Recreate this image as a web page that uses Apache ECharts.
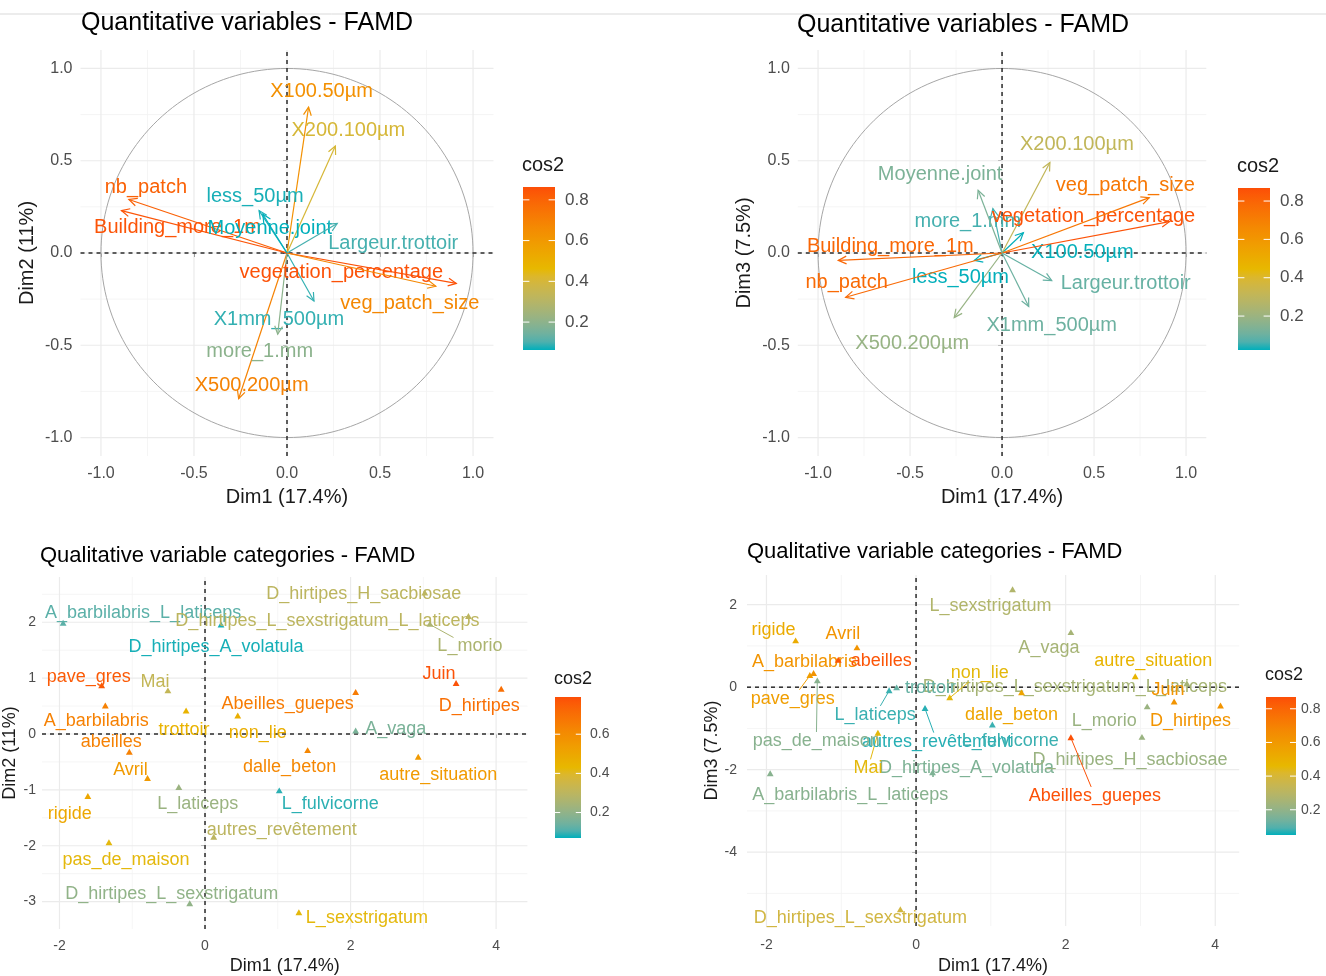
<!DOCTYPE html>
<html><head><meta charset="utf-8">
<script src="https://cdn.jsdelivr.net/npm/echarts@6/dist/echarts.min.js"></script>
<style>html,body{margin:0;padding:0;background:#fff}#chart{width:1326px;height:976px}</style>
</head><body><div id="chart"></div>
<script>
// ================= DATA =================
const quantiVars = ['X100.50µm','X200.100µm','X500.200µm','X1mm_500µm','more_1.mm','less_50µm','nb_patch','Building_more_1m','vegetation_percentage','veg_patch_size','Moyenne.joint','Largeur.trottoir'];
const quantiDim1 = [0.116, 0.26, -0.26, 0.145, -0.05, -0.15, -0.85, -0.89, 0.91, 0.80, -0.13, 0.27];
const quantiDim2 = [0.79, 0.58, -0.79, -0.26, -0.44, 0.23, 0.29, 0.23, -0.165, -0.18, 0.21, 0.16];
const quantiDim3 = [0.11, 0.49, -0.35, -0.29, 0.24, -0.04, -0.24, -0.04, 0.17, 0.30, 0.34, -0.15];

const qualiCats = ['A_barbilabris_L_laticeps','D_hirtipes_A_volatula','D_hirtipes_H_sacbiosae','D_hirtipes_L_sexstrigatum_L_laticeps','L_morio','Juin','D_hirtipes','Abeilles_guepes','A_vaga','pave_gres','Mai','A_barbilabris','trottoir','non_lie','abeilles','Avril','L_laticeps','rigide','autres_revêtement','pas_de_maison','D_hirtipes_L_sexstrigatum','dalle_beton','autre_situation','L_fulvicorne','L_sexstrigatum'];
const qualiDim1 = [-1.95, 0.22, 3.02, 3.62, 3.09, 3.45, 4.07, 2.07, 2.07, -1.42, -0.51, -1.37, -0.26, 0.45, -1.04, -0.79, -0.36, -1.61, 0.12, -1.32, -0.21, 1.41, 2.93, 1.02, 1.29];
const qualiDim2 = [1.98, 1.95, 2.52, 2.10, 1.96, 0.90, 0.80, 0.74, 0.05, 0.86, 0.77, 0.50, 0.41, 0.32, -0.33, -0.80, -0.96, -1.12, -1.85, -1.95, -3.04, -0.30, -0.42, -1.02, -3.20];
const qualiDim3 = [-2.10, -2.08, -1.22, 0.08, -0.48, -0.36, -0.46, -1.23, 1.32, 0.28, -1.12, 0.33, -0.02, -0.26, 0.65, 0.95, -0.09, 1.12, -0.52, 0.15, -5.40, -0.14, 0.25, -0.92, 2.36];
const qualiCos2Dim12 = [0.12, 0.08, 0.30, 0.30, 0.26, 0.78, 0.70, 0.66, 0.16, 0.76, 0.32, 0.64, 0.45, 0.47, 0.64, 0.55, 0.22, 0.50, 0.30, 0.42, 0.20, 0.62, 0.55, 0.09, 0.42];
const qualiCos2Dim13 = [0.18, 0.16, 0.22, 0.25, 0.22, 0.62, 0.62, 0.86, 0.25, 0.58, 0.45, 0.62, 0.12, 0.45, 0.85, 0.62, 0.08, 0.52, 0.07, 0.18, 0.38, 0.55, 0.48, 0.08, 0.28];

const unitTicks = [-1, -0.5, 0, 0.5, 1];
const qualiDim1Ticks = [-2, 0, 2, 4];
const qualiDim2Ticks = [-3, -2, -1, 0, 1, 2];
const qualiDim3Ticks = [-4, -2, 0, 2];
const cos2Ticks = [0.2, 0.4, 0.6, 0.8];
const cos2RangeP1 = [0.063, 0.863];
const cos2RangeP2 = [0.023, 0.868];
const cos2RangeP3 = [0.07, 0.79];
const cos2RangeP4 = [0.05, 0.87];

// ================= STYLE / LAYOUT =================
const FONT = '"Liberation Sans", Arial, Helvetica, sans-serif';
// label offsets (pixels from mark) -- label placement only
const offP1 = {'X100.50µm':[13,-16],'X200.100µm':[13,-15],'X500.200µm':[13,-13],'X1mm_500µm':[-35,19],'more_1.mm':[-18,17],'less_50µm':[-4,-14],'nb_patch':[17,-12],'Building_more_1m':[56,17],'vegetation_percentage':[-115,-11],'veg_patch_size':[-26,17],'Moyenne.joint':[7,14],'Largeur.trottoir':[56,20]};
const offP2 = {'X100.50µm':[59,20],'X200.100µm':[27,-18],'X500.200µm':[-42,26],'X1mm_500µm':[23,19],'more_1.mm':[-25,13],'less_50µm':[-14,17],'nb_patch':[1,-15],'Building_more_1m':[52,-14],'vegetation_percentage':[-76,-5],'veg_patch_size':[-24,-12],'Moyenne.joint':[-38,-16],'Largeur.trottoir':[74,3]};
const offP3 = {'A_barbilabris_L_laticeps':[80,-10],'D_hirtipes_A_volatula':[-5,22],'D_hirtipes_H_sacbiosae':[-61,1],'D_hirtipes_L_sexstrigatum_L_laticeps':[-141,4],'L_morio':[40,22,1],'Juin':[-17,-10],'D_hirtipes':[-22,17],'Abeilles_guepes':[-68,11],'A_vaga':[40,-2],'pave_gres':[-13,-9],'Mai':[-13,-9],'A_barbilabris':[-9,15],'trottoir':[-2,19],'non_lie':[20,17],'abeilles':[-18,-10],'Avril':[-17,-9],'L_laticeps':[19,16],'rigide':[-18,17],'autres_revêtement':[68,-7],'pas_de_maison':[17,17],'D_hirtipes_L_sexstrigatum':[-18,-10],'dalle_beton':[-18,16],'autre_situation':[20,18],'L_fulvicorne':[51,13],'L_sexstrigatum':[68,5]};
const offP4 = {'A_barbilabris_L_laticeps':[80,21],'D_hirtipes_A_volatula':[34,-5],'D_hirtipes_H_sacbiosae':[-12,23],'D_hirtipes_L_sexstrigatum_L_laticeps':[-112,3],'L_morio':[-43,14],'Juin':[-6,-12],'D_hirtipes':[-30,15],'Abeilles_guepes':[24,58,1],'A_vaga':[-22,15],'pave_gres':[-17,23,1],'Mai':[-10,35,1],'A_barbilabris':[-9,-12],'trottoir':[34,0],'non_lie':[30,-25,1],'abeilles':[43,1],'Avril':[-14,-14],'L_laticeps':[-14,24,1],'rigide':[-22,-11],'autres_revêtement':[12,33,1],'pas_de_maison':[-1,60,1],'D_hirtipes_L_sexstrigatum':[-40,8],'dalle_beton':[-10,22],'autre_situation':[18,-16],'L_fulvicorne':[18,16],'L_sexstrigatum':[-22,16]};

const panels = [
  {grid:{left:80.5, top:50, width:413, height:406}, x:[-1.11,1.11], y:[-1.1,1.1],
   xt:unitTicks, yt:unitTicks, xMaj:unitTicks, yMaj:unitTicks, xMin:[-0.75,-0.25,0.25,0.75], yMin:[-0.75,-0.25,0.25,0.75],
   fmt:v=>v.toFixed(1), tickFont:16, nameFont:20, xName:'Dim1 (17.4%)', yName:'Dim2 (11%)', xGap:31, yGap:43, xMargin:10, yMargin:8, circle:true},
  {grid:{left:797.8, top:50, width:408.5, height:406}, x:[-1.11,1.11], y:[-1.1,1.1],
   xt:unitTicks, yt:unitTicks, xMaj:unitTicks, yMaj:unitTicks, xMin:[-0.75,-0.25,0.25,0.75], yMin:[-0.75,-0.25,0.25,0.75],
   fmt:v=>v.toFixed(1), tickFont:16, nameFont:20, xName:'Dim1 (17.4%)', yName:'Dim3 (7.5%)', xGap:31, yGap:43, xMargin:10, yMargin:8, circle:true},
  {grid:{left:40, top:577, width:487.4, height:352.8}, x:[-2.24,4.43], y:[-3.49,2.81],
   xt:qualiDim1Ticks, yt:qualiDim2Ticks, xMaj:qualiDim1Ticks, yMaj:qualiDim2Ticks, xMin:[-1,1,3], yMin:[-2.5,-1.5,-0.5,0.5,1.5,2.5],
   fmt:v=>String(v), tickFont:14, nameFont:18, xName:'Dim1 (17.4%)', yName:'Dim2 (11%)', xGap:28, yGap:23, xMargin:10, yMargin:6},
  {grid:{left:747, top:575, width:492.2, height:351.5}, x:[-2.26,4.32], y:[-5.79,2.72],
   xt:qualiDim1Ticks, yt:qualiDim3Ticks, xMaj:qualiDim1Ticks, yMaj:qualiDim3Ticks, xMin:[-1,1,3], yMin:[-5,-3,-1,1],
   fmt:v=>String(v), tickFont:14, nameFont:18, xName:'Dim1 (17.4%)', yName:'Dim3 (7.5%)', xGap:31, yGap:26, xMargin:12, yMargin:10}
];

// ---- Lab palette (teal -> yellow -> orange) ----
function hex2rgb(h){return [parseInt(h.slice(1,3),16),parseInt(h.slice(3,5),16),parseInt(h.slice(5,7),16)];}
function s2l(c){c/=255;return c<=0.04045?c/12.92:Math.pow((c+0.055)/1.055,2.4);}
function l2s(c){c=c<=0.0031308?12.92*c:1.055*Math.pow(c,1/2.4)-0.055;return Math.max(0,Math.min(255,Math.round(c*255)));}
function rgb2lab(rgb){const [r,g,b]=rgb.map(s2l);
  let X=(0.4124*r+0.3576*g+0.1805*b)/0.95047, Y=(0.2126*r+0.7152*g+0.0722*b), Z=(0.0193*r+0.1192*g+0.9505*b)/1.08883;
  const f=t=>t>0.008856?Math.cbrt(t):7.787*t+16/116; const fx=f(X),fy=f(Y),fz=f(Z);
  return [116*fy-16,500*(fx-fy),200*(fy-fz)];}
function lab2hex(lab){const fy=(lab[0]+16)/116, fx=fy+lab[1]/500, fz=fy-lab[2]/200;
  const fi=t=>t*t*t>0.008856?t*t*t:(t-16/116)/7.787; const X=fi(fx)*0.95047,Y=fi(fy),Z=fi(fz)*1.08883;
  const r=3.2406*X-1.5372*Y-0.4986*Z, g=-0.9689*X+1.8758*Y+0.0415*Z, b=0.0557*X-0.2040*Y+1.0570*Z;
  return '#'+[r,g,b].map(v=>l2s(v).toString(16).padStart(2,'0')).join('');}
const baseCols = ['#00AFBB','#E7B800','#FC4E07'].map(h=>rgb2lab(hex2rgb(h)));
const palette = [];
for(let k=0;k<=20;k++){const t=k/20; const seg=t<0.5?0:1; const u=(t-seg*0.5)*2;
  const a=baseCols[seg], b=baseCols[seg+1]; palette.push(lab2hex([0,1,2].map(j=>a[j]+(b[j]-a[j])*u)));}

// ---- helpers ----
const mctx = document.createElement('canvas').getContext('2d');
function textW(s,font){mctx.font=font;return mctx.measureText(s).width;}

function frameRender(p){
  return function(params, api){
    const ch=[];
    const L=(a,b,c,w,dash)=>ch.push({type:'line',shape:{x1:a[0],y1:a[1],x2:b[0],y2:b[1]},style:{stroke:c,lineWidth:w,lineDash:dash||null},silent:true});
    p.xMin.forEach(v=>L(api.coord([v,p.y[0]]),api.coord([v,p.y[1]]),'#F2F2F2',0.8));
    p.yMin.forEach(v=>L(api.coord([p.x[0],v]),api.coord([p.x[1],v]),'#F2F2F2',0.8));
    p.xMaj.forEach(v=>L(api.coord([v,p.y[0]]),api.coord([v,p.y[1]]),'#EBEBEB',1.2));
    p.yMaj.forEach(v=>L(api.coord([p.x[0],v]),api.coord([p.x[1],v]),'#EBEBEB',1.2));
    if(p.circle){const pts=[];for(let k=0;k<=180;k++){const a=k/180*2*Math.PI;pts.push(api.coord([Math.cos(a),Math.sin(a)]));}
      ch.push({type:'polyline',shape:{points:pts},style:{stroke:'#A6A6A6',lineWidth:1,fill:null},silent:true});}
    L(api.coord([p.x[0],0]),api.coord([p.x[1],0]),'#2b2b2b',1.5,[4,4]);
    L(api.coord([0,p.y[0]]),api.coord([0,p.y[1]]),'#2b2b2b',1.5,[4,4]);
    return {type:'group',children:ch};
  };
}

function arrowRender(offs){
  const font='20px '+FONT;
  return function(params, api){
    const x=api.value(0), y=api.value(1), i=api.value(3);
    const o=api.coord([0,0]), t=api.coord([x,y]); const c=api.visual('color');
    const ang=Math.atan2(t[1]-o[1],t[0]-o[0]), Lh=9, a=Math.PI/7;
    const h1=[t[0]-Lh*Math.cos(ang-a),t[1]-Lh*Math.sin(ang-a)], h2=[t[0]-Lh*Math.cos(ang+a),t[1]-Lh*Math.sin(ang+a)];
    const name=quantiVars[i], off=offs[name]||[0,-12];
    return {type:'group',children:[
      {type:'line',shape:{x1:o[0],y1:o[1],x2:t[0],y2:t[1]},style:{stroke:c,lineWidth:1.2}},
      {type:'polyline',shape:{points:[h1,t,h2]},style:{stroke:c,lineWidth:1.2,fill:null}},
      {type:'text',style:{x:t[0]+off[0],y:t[1]+off[1],text:name,fill:c,font:font,align:'center',verticalAlign:'middle'}}
    ]};
  };
}

function pointRender(offs){
  const font='18px '+FONT;
  return function(params, api){
    const i=api.value(3); const p=api.coord([api.value(0),api.value(1)]); const c=api.visual('color');
    const name=qualiCats[i], off=offs[name]||[0,-12]; const s=3.6;
    const ch=[{type:'polygon',shape:{points:[[p[0],p[1]-s],[p[0]-s*0.95,p[1]+s*0.65],[p[0]+s*0.95,p[1]+s*0.65]]},style:{fill:c}}];
    const cx=p[0]+off[0], cy=p[1]+off[1];
    if(off[2]){const hw=textW(name,font)/2+2, hh=9; const vx=cx-p[0], vy=cy-p[1];
      const sx=Math.abs(vx)>1e-6?hw/Math.abs(vx):1e9, sy=Math.abs(vy)>1e-6?hh/Math.abs(vy):1e9; const sc=Math.min(sx,sy);
      if(sc<1){ch.push({type:'line',shape:{x1:p[0],y1:p[1],x2:cx-vx*sc,y2:cy-vy*sc},style:{stroke:c,lineWidth:1}});}}
    ch.push({type:'text',style:{x:cx,y:cy,text:name,fill:c,font:font,align:'center',verticalAlign:'middle'}});
    return {type:'group',children:ch};
  };
}

function xAx(gi,p){return {type:'value',gridIndex:gi,min:p.x[0],max:p.x[1],axisLine:{show:false},splitLine:{show:false},
  axisTick:{show:true,customValues:p.xt,length:4,lineStyle:{color:'#333',width:1}},
  axisLabel:{customValues:p.xt,formatter:p.fmt,color:'#4D4D4D',fontSize:p.tickFont,fontFamily:FONT,margin:p.xMargin},
  name:p.xName,nameLocation:'middle',nameGap:p.xGap,nameTextStyle:{fontSize:p.nameFont,color:'#1A1A1A',fontFamily:FONT}};}
function yAx(gi,p){return {type:'value',gridIndex:gi,min:p.y[0],max:p.y[1],axisLine:{show:false},splitLine:{show:false},
  axisTick:{show:true,customValues:p.yt,length:4,lineStyle:{color:'#333',width:1}},
  axisLabel:{customValues:p.yt,formatter:p.fmt,color:'#4D4D4D',fontSize:p.tickFont,fontFamily:FONT,margin:p.yMargin},
  name:p.yName,nameLocation:'middle',nameGap:p.yGap,nameRotate:90,nameTextStyle:{fontSize:p.nameFont,color:'#1A1A1A',fontFamily:FONT}};}

function colorbar(b,range){
  const els=[]; const [mn,mx]=range;
  const stops=palette.map((c,k)=>({offset:k/(palette.length-1),color:palette[palette.length-1-k]}));
  els.push({type:'text',left:b.x-1,top:b.ty-b.tf/2-2,style:{text:'cos2',fill:'#1A1A1A',font:b.tf+'px '+FONT}});
  els.push({type:'rect',shape:{x:b.x,y:b.y,width:b.w,height:b.h},style:{fill:{type:'linear',x:0,y:0,x2:0,y2:1,colorStops:stops}}});
  cos2Ticks.filter(v=>v>=mn&&v<=mx).forEach(v=>{const yy=b.y+(mx-v)/(mx-mn)*b.h; const tl=b.w/5;
    els.push({type:'line',shape:{x1:b.x,y1:yy,x2:b.x+tl,y2:yy},style:{stroke:'#fff',lineWidth:1}});
    els.push({type:'line',shape:{x1:b.x+b.w-tl,y1:yy,x2:b.x+b.w,y2:yy},style:{stroke:'#fff',lineWidth:1}});
    els.push({type:'text',x:b.x+b.w+b.lg,y:yy,style:{text:v.toFixed(1),fill:'#4D4D4D',font:b.lf+'px '+FONT,verticalAlign:'middle',align:'left'}});
  });
  return els;
}

// ================= BUILD =================
const dataP1 = quantiVars.map((n,i)=>[quantiDim1[i],quantiDim2[i],quantiDim1[i]**2+quantiDim2[i]**2,i]);
const dataP2 = quantiVars.map((n,i)=>[quantiDim1[i],quantiDim3[i],quantiDim1[i]**2+quantiDim3[i]**2,i]);
const dataP3 = qualiCats.map((n,i)=>[qualiDim1[i],qualiDim2[i],qualiCos2Dim12[i],i]);
const dataP4 = qualiCats.map((n,i)=>[qualiDim1[i],qualiDim3[i],qualiCos2Dim13[i],i]);

const series=[]; const renders=[arrowRender(offP1),arrowRender(offP2),pointRender(offP3),pointRender(offP4)];
const datas=[dataP1,dataP2,dataP3,dataP4];
panels.forEach((p,gi)=>{
  series.push({type:'custom',coordinateSystem:'cartesian2d',xAxisIndex:gi,yAxisIndex:gi,silent:true,z:1,data:[[0,0]],encode:{x:0,y:1},renderItem:frameRender(p)});
  series.push({type:'custom',coordinateSystem:'cartesian2d',xAxisIndex:gi,yAxisIndex:gi,silent:true,z:2,data:datas[gi],encode:{x:0,y:1},renderItem:renders[gi]});
});
const ranges=[cos2RangeP1,cos2RangeP2,cos2RangeP3,cos2RangeP4];
const visualMap=ranges.map((r,k)=>({type:'continuous',show:false,seriesIndex:2*k+1,dimension:2,min:r[0],max:r[1],inRange:{color:palette}}));

const graphic=[
  {type:'line',shape:{x1:0,y1:14,x2:1326,y2:14},style:{stroke:'#D9D9D9',lineWidth:1}},
  {type:'text',left:81,top:11,style:{text:'Quantitative variables - FAMD',fill:'#000',font:'25px '+FONT}},
  {type:'text',left:797,top:13,style:{text:'Quantitative variables - FAMD',fill:'#000',font:'25px '+FONT}},
  {type:'text',left:40,top:545,style:{text:'Qualitative variable categories - FAMD',fill:'#000',font:'22px '+FONT}},
  {type:'text',left:747,top:541,style:{text:'Qualitative variable categories - FAMD',fill:'#000',font:'22px '+FONT}},
  ...colorbar({x:523,y:187,w:32,h:163,ty:167,tf:20,lf:17,lg:10},cos2RangeP1),
  ...colorbar({x:1238,y:188,w:32,h:162,ty:168,tf:20,lf:17,lg:10},cos2RangeP2),
  ...colorbar({x:555,y:697,w:26,h:141,ty:681,tf:18,lf:14,lg:9},cos2RangeP3),
  ...colorbar({x:1266,y:697,w:30,h:138,ty:677,tf:18,lf:14,lg:5},cos2RangeP4)
];

const chart=echarts.init(document.getElementById('chart'),null,{renderer:'canvas'});
chart.setOption({
  animation:false, backgroundColor:'#fff',
  grid:panels.map(p=>Object.assign({containLabel:false},p.grid)),
  xAxis:panels.map((p,i)=>xAx(i,p)), yAxis:panels.map((p,i)=>yAx(i,p)),
  visualMap, series, graphic
});
</script></body></html>
